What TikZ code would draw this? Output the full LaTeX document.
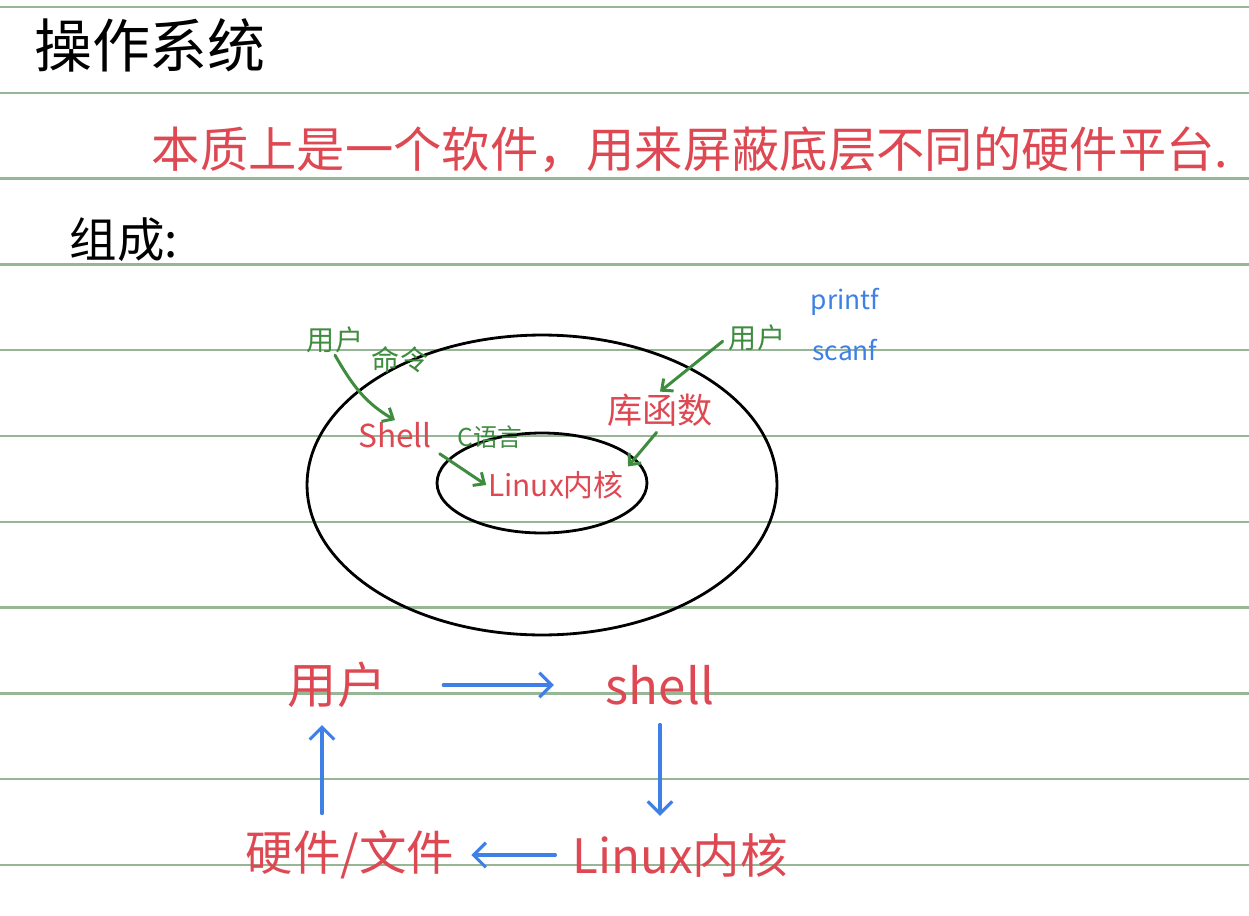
\documentclass[tikz,border=0pt]{standalone}
\usepackage{fontspec}
\setmainfont{Noto Sans CJK SC}
\usetikzlibrary{arrows.meta}
\definecolor{inkred}{RGB}{222,72,82}
\definecolor{inkgreen}{RGB}{62,140,62}
\definecolor{inkblue}{RGB}{62,128,230}
\definecolor{ruled}{RGB}{150,182,150}

\begin{document}
\begin{tikzpicture}[x=0.02cm, y=-0.02cm,
      redbig/.style={text=inkred, inner sep=1pt, font=\fontsize{28}{30}\selectfont},
      redsmall/.style={text=inkred, inner sep=1pt, font=\fontsize{17}{19}\selectfont},
      note/.style={text=inkgreen, inner sep=1pt, font=\fontsize{16}{18}\selectfont},
      greenarrow/.style={draw=inkgreen, line width=1.7pt, line cap=round, -{Straight Barb[length=5pt,width=9pt]}},
      bluearrow/.style={draw=inkblue, line width=1.8pt, line cap=round, -{Straight Barb[length=7pt,width=14pt]}}
    ]
      \useasboundingbox (0,0) rectangle (1249,916);
      \fill[white] (0,0) rectangle (1249,916);
      % ruled paper
      \foreach \k in {0,...,10}
        \draw[ruled, line width=1.3pt] (0,7+85.8*\k) -- (1249,7+85.8*\k);

      \node (title) at (150,45) {\fontsize{33}{35}\selectfont 操作系统};
      \node[text=inkred, font=\fontsize{27.5}{29}\selectfont] (intro) at (690,150) {本质上是一个软件，用来屏蔽底层不同的硬件平台.};
      \node[font=\fontsize{27}{29}\selectfont] (parts) at (124,240) {组成:};

      % rings
      \draw[line width=1.6pt] (542,485) ellipse [x radius=4.7cm, y radius=3cm];
      \draw[line width=1.6pt] (542,483) ellipse [x radius=2.1cm, y radius=1cm];

      \node[note] (user1) at (335,340) {用户};
      \node[note] (cmd) at (400,360) {命令};
      \node[redsmall, font=\fontsize{18}{20}\selectfont] (shell1) at (395,435) {Shell};
      \node[note, font=\fontsize{14}{16}\selectfont] (clang) at (490,437) {C语言};
      \node[redsmall] (kernel1) at (556,485) {Linux内核};
      \node[redsmall, font=\fontsize{20}{22}\selectfont] (libfn) at (660,410) {库函数};
      \node[note] (user2) at (757,338) {用户};
      \node[text=inkblue, font=\fontsize{15}{17}\selectfont] (pf) at (845,302) {printf};
      \node[text=inkblue, font=\fontsize{15}{17}\selectfont] (sf) at (845,350) {scanf};

      \draw[greenarrow] (user1.south) to[out=-60, in=150] (shell1.north);
      \draw[greenarrow, shorten <=4pt] (shell1.south east) -- (kernel1.west);
      \draw[greenarrow, shorten <=3pt] (user2.west) -- (libfn.north);
      \draw[greenarrow, shorten <=3pt, shorten >=2pt] (libfn.south) -- (kernel1.north east);

      % flow
      \node[redbig] (user) at (337,685) {用户};
      \node[redbig] (shell) at (660,685) {shell};
      \node[redbig, font=\fontsize{27}{29}\selectfont] (kernel) at (680,855) {Linux内核};
      \node[redbig, font=\fontsize{27}{29}\selectfont] (hw) at (350,855) {硬件/文件};

      \draw[bluearrow, shorten <=1.1cm, shorten >=1cm] (user.east) -- (shell.west);
      \draw[bluearrow, shorten <=0.35cm, shorten >=0.3cm] (shell.south) -- (shell.south |- kernel.north);
      \draw[bluearrow, shorten <=0.3cm, shorten >=0.3cm] (kernel.west) -- (hw.east);
      \draw[bluearrow, shorten <=0.3cm, shorten >=0.3cm] ([xshift=-0.3cm]user.south |- hw.north) -- ([xshift=-0.3cm]user.south);
    \end{tikzpicture}
\end{document}
